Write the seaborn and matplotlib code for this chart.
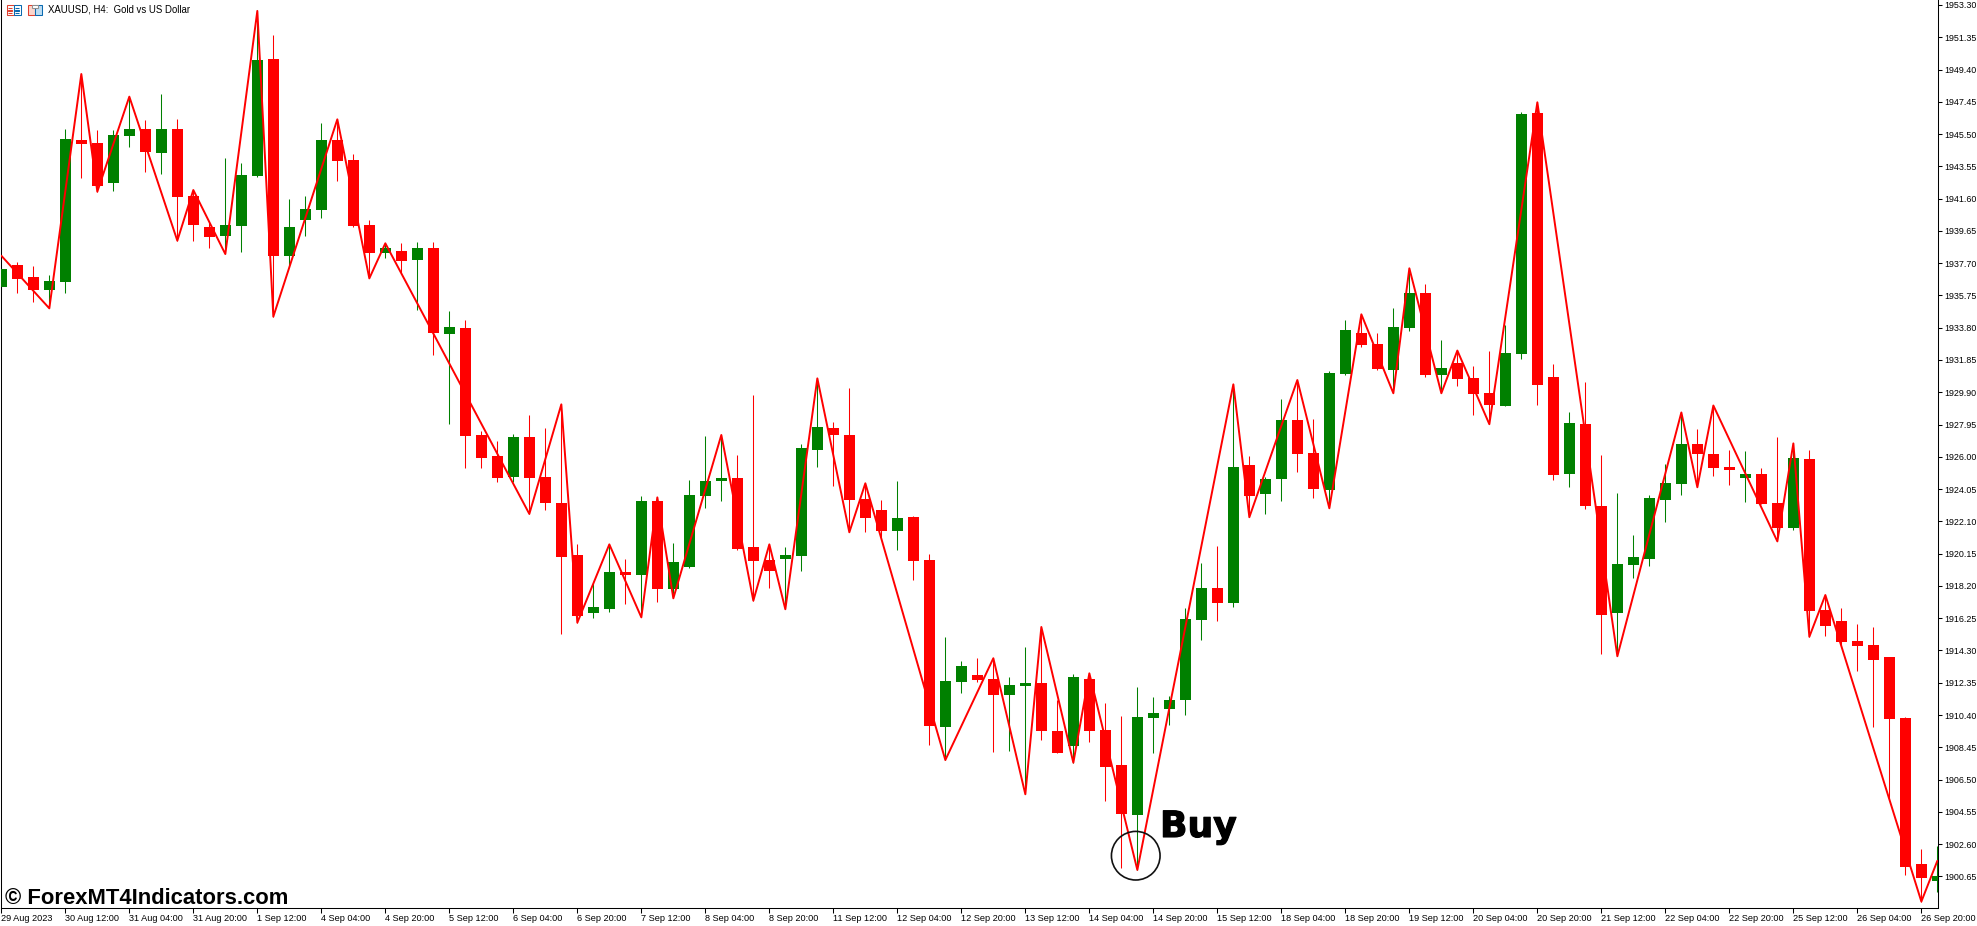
import numpy as np
import pandas as pd
import seaborn as sns
import matplotlib
matplotlib.use("Agg")
import matplotlib.pyplot as plt
import matplotlib.patheffects as pe
from matplotlib.patches import Rectangle

# candles, XAUUSD H4
opens = [1936.28, 1937.59, 1936.86, 1936.10, 1936.58, 1945.14, 1944.96, 1942.56, 1945.40, 1945.81,
         1944.36, 1945.81, 1941.76, 1939.88, 1939.36, 1939.97, 1942.99, 1950.04, 1938.15, 1940.33,
         1940.93, 1945.14, 1943.93, 1940.01, 1938.33, 1938.43, 1937.91, 1938.62, 1933.44, 1933.78,
         1927.32, 1926.05, 1924.80, 1927.20, 1924.78, 1923.21, 1920.07, 1916.58, 1916.83, 1919.04,
         1918.88, 1923.33, 1918.03, 1919.37, 1923.65, 1924.54, 1924.72, 1920.55, 1919.75, 1919.85,
         1920.03, 1926.43, 1927.74, 1927.32, 1923.43, 1922.79, 1921.54, 1922.36, 1919.77, 1909.70,
         1912.42, 1912.82, 1912.58, 1911.61, 1912.15, 1912.33, 1909.43, 1908.55, 1912.58, 1909.49,
         1907.38, 1904.38, 1910.22, 1910.76, 1911.33, 1916.16, 1918.07, 1917.19, 1925.51, 1923.78,
         1924.68, 1928.23, 1926.23, 1924.02, 1931.01, 1933.48, 1932.82, 1931.27, 1933.81, 1935.90,
         1930.97, 1931.67, 1930.76, 1929.86, 1929.09, 1932.24, 1946.78, 1930.83, 1924.98, 1927.99,
         1923.02, 1916.58, 1919.48, 1919.84, 1923.40, 1924.37, 1926.77, 1926.16, 1925.38, 1924.75,
         1924.96, 1923.21, 1921.71, 1925.86, 1916.73, 1916.07, 1914.85, 1914.62, 1913.91, 1910.20,
         1901.38, 1900.37]
highs = [1937.49, 1937.77, 1937.53, 1936.98, 1945.81, 1949.13, 1945.75, 1945.75, 1947.76, 1946.35,
         1947.92, 1946.41, 1942.12, 1940.21, 1944.05, 1943.75, 1952.94, 1951.49, 1941.58, 1941.76,
         1946.17, 1946.39, 1944.30, 1940.31, 1938.90, 1938.92, 1938.98, 1938.98, 1934.81, 1934.27,
         1927.56, 1926.96, 1927.38, 1928.53, 1927.74, 1929.17, 1920.73, 1918.36, 1920.71, 1919.83,
         1923.63, 1923.55, 1920.79, 1924.60, 1927.26, 1927.32, 1926.11, 1929.74, 1920.71, 1920.55,
         1926.78, 1930.74, 1928.11, 1930.16, 1924.40, 1923.39, 1924.54, 1922.42, 1920.13, 1915.11,
         1913.66, 1913.85, 1913.83, 1912.70, 1914.51, 1915.72, 1911.31, 1912.88, 1912.92, 1911.13,
         1910.34, 1912.09, 1911.49, 1911.55, 1916.87, 1919.59, 1920.61, 1930.38, 1926.05, 1924.80,
         1929.50, 1930.64, 1928.29, 1931.19, 1934.27, 1934.61, 1933.48, 1934.99, 1937.39, 1936.44,
         1933.06, 1932.42, 1931.49, 1932.40, 1933.97, 1946.86, 1947.42, 1931.61, 1928.71, 1930.52,
         1926.11, 1923.80, 1921.27, 1923.69, 1925.59, 1928.68, 1927.69, 1929.10, 1926.41, 1926.35,
         1925.31, 1927.19, 1926.81, 1926.41, 1917.65, 1916.85, 1915.88, 1915.72, 1913.91, 1910.26,
         1902.29, 1902.48]
lows = [1936.12, 1935.92, 1935.37, 1934.97, 1935.92, 1942.87, 1942.02, 1942.08, 1944.74, 1943.23,
        1943.09, 1939.06, 1939.06, 1938.64, 1938.29, 1938.39, 1942.93, 1934.47, 1937.49, 1939.36,
        1940.45, 1942.68, 1939.90, 1936.78, 1938.03, 1937.05, 1934.89, 1932.17, 1928.00, 1925.35,
        1925.35, 1924.50, 1924.50, 1922.55, 1922.79, 1915.32, 1915.98, 1916.28, 1916.65, 1917.13,
        1916.30, 1917.25, 1917.45, 1919.30, 1922.93, 1923.35, 1920.37, 1917.31, 1918.10, 1916.79,
        1919.12, 1925.41, 1924.26, 1921.44, 1921.48, 1921.14, 1920.39, 1918.56, 1908.59, 1907.68,
        1911.73, 1912.42, 1908.19, 1908.25, 1905.61, 1908.89, 1908.13, 1907.52, 1908.79, 1905.23,
        1901.18, 1901.04, 1908.13, 1909.80, 1910.40, 1914.93, 1916.08, 1916.95, 1922.35, 1922.57,
        1923.35, 1925.11, 1923.53, 1922.89, 1930.95, 1932.66, 1931.25, 1929.84, 1933.62, 1930.85,
        1929.84, 1930.30, 1928.53, 1927.97, 1929.09, 1931.93, 1929.15, 1924.62, 1924.20, 1922.87,
        1914.09, 1913.95, 1918.68, 1919.42, 1922.07, 1923.69, 1924.16, 1924.85, 1924.30, 1923.29,
        1923.13, 1920.89, 1921.59, 1915.13, 1915.17, 1914.54, 1913.06, 1909.67, 1905.27, 1900.73,
        1899.13, 1899.72]
closes = [1937.35, 1936.76, 1936.10, 1936.62, 1945.20, 1944.92, 1942.38, 1945.44, 1945.81, 1944.44,
          1945.81, 1941.72, 1940.03, 1939.30, 1940.01, 1943.03, 1949.97, 1938.15, 1939.88, 1940.97,
          1945.14, 1943.89, 1939.97, 1938.33, 1938.64, 1937.85, 1938.62, 1933.50, 1933.85, 1927.28,
          1925.95, 1924.74, 1927.20, 1924.74, 1923.23, 1919.97, 1916.40, 1916.93, 1919.04, 1918.86,
          1923.33, 1918.03, 1919.65, 1923.69, 1924.54, 1924.72, 1920.45, 1919.73, 1919.12, 1920.07,
          1926.53, 1927.80, 1927.34, 1923.41, 1922.33, 1921.54, 1922.30, 1919.73, 1909.76, 1912.46,
          1913.36, 1912.52, 1911.61, 1912.21, 1912.33, 1909.45, 1908.13, 1912.70, 1909.45, 1907.28,
          1904.44, 1910.28, 1910.52, 1911.31, 1916.20, 1918.07, 1917.19, 1925.39, 1923.66, 1924.66,
          1928.23, 1926.19, 1924.08, 1931.07, 1933.66, 1932.78, 1931.33, 1933.85, 1935.90, 1930.97,
          1931.37, 1930.72, 1929.82, 1929.15, 1932.28, 1946.72, 1930.36, 1924.92, 1928.05, 1923.05,
          1916.43, 1919.53, 1919.95, 1923.50, 1924.41, 1926.77, 1926.14, 1925.34, 1925.23, 1924.96,
          1923.17, 1921.71, 1925.92, 1916.70, 1915.80, 1914.83, 1914.58, 1913.74, 1910.16, 1901.23,
          1900.56, 1900.66]

# zigzag indicator turning points
zz_bars = [0, 3, 5, 6, 8, 11, 12, 14, 16, 17, 21, 23, 24, 33, 35, 36, 38, 40, 41, 42, 45, 47, 48, 49,
           51, 53, 54, 59, 62, 64, 65, 67, 68, 71, 77, 78, 81, 83, 85, 87, 88, 90, 91, 93, 96, 101,
           105, 106, 107, 111, 112, 113, 114, 120, 121]
zz_price = [1938.15, 1934.97, 1949.13, 1942.02, 1947.76, 1939.06, 1942.12, 1938.25, 1952.94, 1934.47,
            1946.39, 1936.78, 1938.90, 1922.55, 1929.17, 1915.98, 1920.71, 1916.30, 1923.55, 1917.45,
            1927.32, 1917.31, 1920.71, 1916.79, 1930.74, 1921.44, 1924.40, 1907.68, 1913.83, 1905.61,
            1915.72, 1907.52, 1912.92, 1901.04, 1930.38, 1922.35, 1930.64, 1922.89, 1934.61, 1929.84,
            1937.39, 1929.84, 1932.42, 1927.97, 1947.42, 1913.95, 1928.68, 1924.16, 1929.10, 1920.89,
            1926.81, 1915.13, 1917.65, 1899.13, 1901.59]

price_ticks = [1953.30, 1951.35, 1949.40, 1947.45, 1945.50, 1943.55, 1941.60, 1939.65, 1937.70, 1935.75,
               1933.80, 1931.85, 1929.90, 1927.95, 1926.00, 1924.05, 1922.10, 1920.15, 1918.20, 1916.25,
               1914.30, 1912.35, 1910.40, 1908.45, 1906.50, 1904.55, 1902.60, 1900.65]
time_labels = ["29 Aug 2023", "30 Aug 12:00", "31 Aug 04:00", "31 Aug 20:00", "1 Sep 12:00", "4 Sep 04:00",
               "4 Sep 20:00", "5 Sep 12:00", "6 Sep 04:00", "6 Sep 20:00", "7 Sep 12:00", "8 Sep 04:00",
               "8 Sep 20:00", "11 Sep 12:00", "12 Sep 04:00", "12 Sep 20:00", "13 Sep 12:00", "14 Sep 04:00",
               "14 Sep 20:00", "15 Sep 12:00", "18 Sep 04:00", "18 Sep 20:00", "19 Sep 12:00", "20 Sep 04:00",
               "20 Sep 20:00", "21 Sep 12:00", "22 Sep 04:00", "22 Sep 20:00", "25 Sep 12:00", "26 Sep 04:00",
               "26 Sep 20:00"]

GREEN = "#008000"
RED = "#ff0000"
ICON_RED = "#e04030"
ICON_BLUE = "#0a6ab0"
W, H = 1977, 926

sns.set_style("white")
plt.rcParams["font.family"] = ["Liberation Sans", "DejaVu Sans"]

df = pd.DataFrame({"open": opens, "high": highs, "low": lows, "close": closes})
df["bar"] = df.index
df["color"] = np.where(df["close"] >= df["open"], GREEN, RED)

fig = plt.figure(figsize=(W / 100, H / 100), dpi=100, facecolor="white")
ax = fig.add_axes([1 / W, (H - 908) / H, 1937 / W, 908 / H])

# wicks then bodies
ax.vlines(df["bar"], df["low"], df["high"], colors=df["color"], linewidth=0.75, zorder=2)
ax.bar(df["bar"], (df["close"] - df["open"]).abs(), bottom=df[["open", "close"]].min(axis=1),
       width=0.69, color=df["color"], linewidth=0, zorder=3)

zz = pd.DataFrame({"bar": zz_bars, "price": zz_price})
sns.lineplot(data=zz, x="bar", y="price", sort=False, estimator=None, color=RED, linewidth=1.4,
             ax=ax, zorder=4)

ax.set_xlim(-0.02, 121.04)
ax.set_ylim(1898.74, 1953.60)
ax.set_xlabel("")
ax.set_ylabel("")

ax.yaxis.tick_right()
ax.set_yticks(price_ticks)
ax.set_yticklabels([f"{p:.2f}" for p in price_ticks])
ax.set_xticks(df["bar"].values[::4])
ax.set_xticklabels(time_labels, ha="left")
ax.tick_params(axis="y", length=3, width=0.75, pad=1.5, labelsize=6.4, colors="black", right=True)
ax.tick_params(axis="x", length=3.5, width=0.75, pad=0.5, labelsize=6.55, colors="black", bottom=True)

ax.spines["top"].set_visible(False)
for side in ["left", "right", "bottom"]:
    ax.spines[side].set_linewidth(0.75)
    ax.spines[side].set_color("black")

# buy marker
ax.scatter([70.9], [1901.9], s=1225, facecolors="none", edgecolors="#111111", linewidths=1.2, zorder=5)
fig.text(1160 / W, 1 - 837 / H, "Buy", fontsize=26, fontweight="bold", family="DejaVu Sans", color="black",
         path_effects=[pe.withStroke(linewidth=0.8, foreground="black")])

# chart header
fig.text(47.5 / W, 1 - 9.5 / H, "XAUUSD, H4:  Gold vs US Dollar", fontsize=6.9, va="center", color="black")


def icon_box(x0, y0, w, h, edge, fill="white"):
    fig.add_artist(Rectangle((x0 / W, 1 - (y0 + h) / H), w / W, h / H, transform=fig.transFigure,
                             facecolor=fill, edgecolor=edge, linewidth=0.75))


icon_box(6.5, 5.5, 7, 9, ICON_RED)
icon_box(13.5, 5.5, 7, 9, ICON_BLUE)
for row in [8, 10.5, 13]:
    icon_box(8, row, 4, 0.3, ICON_RED, ICON_RED)
    icon_box(15, row, 4, 0.3, ICON_BLUE, ICON_BLUE)
icon_box(27.5, 5.5, 7, 9.5, ICON_RED, "#fbd5cc")
icon_box(34.5, 5.5, 7, 9.5, ICON_BLUE, "#bcdcf2")
icon_box(31.5, 4.5, 6, 3, "#909090", "white")

# watermark
fig.text(5 / W, 1 - 904 / H, "© ForexMT4Indicators.com", fontsize=15.8, fontweight="bold", color="black")

fig.savefig("out.png", dpi=100, facecolor="white")
